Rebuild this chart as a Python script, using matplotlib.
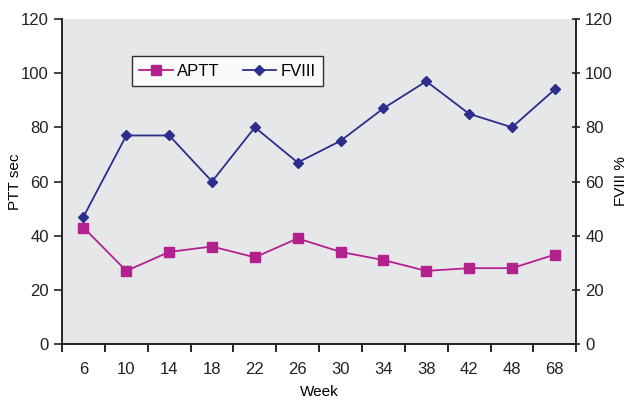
import matplotlib
matplotlib.use('Agg')
import matplotlib.pyplot as plt
import numpy as np

plt.rcParams['font.family'] = ['Liberation Sans', 'DejaVu Sans']

weeks = ['6', '10', '14', '18', '22', '26', '30', '34', '38', '42', '48', '68']
aptt = [43, 27, 34, 36, 32, 39, 34, 31, 27, 28, 28, 33]
fviii = [47, 77, 77, 60, 80, 67, 75, 87, 97, 85, 80, 94]

x = np.arange(len(weeks))

fig = plt.figure(figsize=(6.27, 4.0), dpi=100)
ax = fig.add_axes([0.099, 0.14, 0.82, 0.8125])
ax.set_facecolor('#e6e7e9')

l1, = ax.plot(x, aptt, color='#b5208f', marker='s', markersize=7, lw=1.3, label='APTT')
ax2 = ax.twinx()
l2, = ax2.plot(x, fviii, color='#2b2e8c', marker='D', markersize=5, lw=1.3, label='FVIII')

for a in (ax, ax2):
    a.set_ylim(0, 120)
    a.set_yticks(range(0, 121, 20))
    a.spines['top'].set_visible(False)
    a.tick_params(labelsize=12, colors='#222222')
ax.set_xlim(-0.5, len(weeks) - 0.5)
ax.set_xticks(x)
ax.set_xticklabels(weeks)
ax.set_xticks(np.arange(-0.5, len(weeks)), minor=True)
ax.tick_params(axis='x', which='major', length=0, pad=13)
ax.tick_params(axis='x', which='minor', length=6, width=1.2, direction='out')
ax.tick_params(axis='y', length=6, width=1.2, direction='out')
ax2.tick_params(axis='y', length=6, width=1.2, direction='inout')
for a in (ax, ax2):
    for s in ('left', 'right', 'bottom'):
        a.spines[s].set_linewidth(1.4)
        a.spines[s].set_color('#222222')
ax.spines['right'].set_visible(False)
ax2.spines['left'].set_visible(False)
ax2.spines['bottom'].set_visible(False)

ax.set_ylabel('PTT sec', fontsize=11)
ax.yaxis.set_label_coords(-0.078, 0.5)
ax2.set_ylabel('FVIII %', fontsize=11)
ax2.yaxis.set_label_coords(1.074, 0.5)
ax.set_xlabel('Week', fontsize=11)
ax.xaxis.set_label_coords(0.5, -0.127)

leg = ax2.legend(handles=[l1, l2], ncol=2, loc='upper left', bbox_to_anchor=(0.136, 0.886),
                 frameon=True, fancybox=False, edgecolor='black', fontsize=12,
                 handlelength=2.0, handletextpad=0.25, columnspacing=1.4,
                 borderpad=0.45, borderaxespad=0)
leg.get_frame().set_linewidth(1.0)

fig.savefig('out.png', dpi=100)
